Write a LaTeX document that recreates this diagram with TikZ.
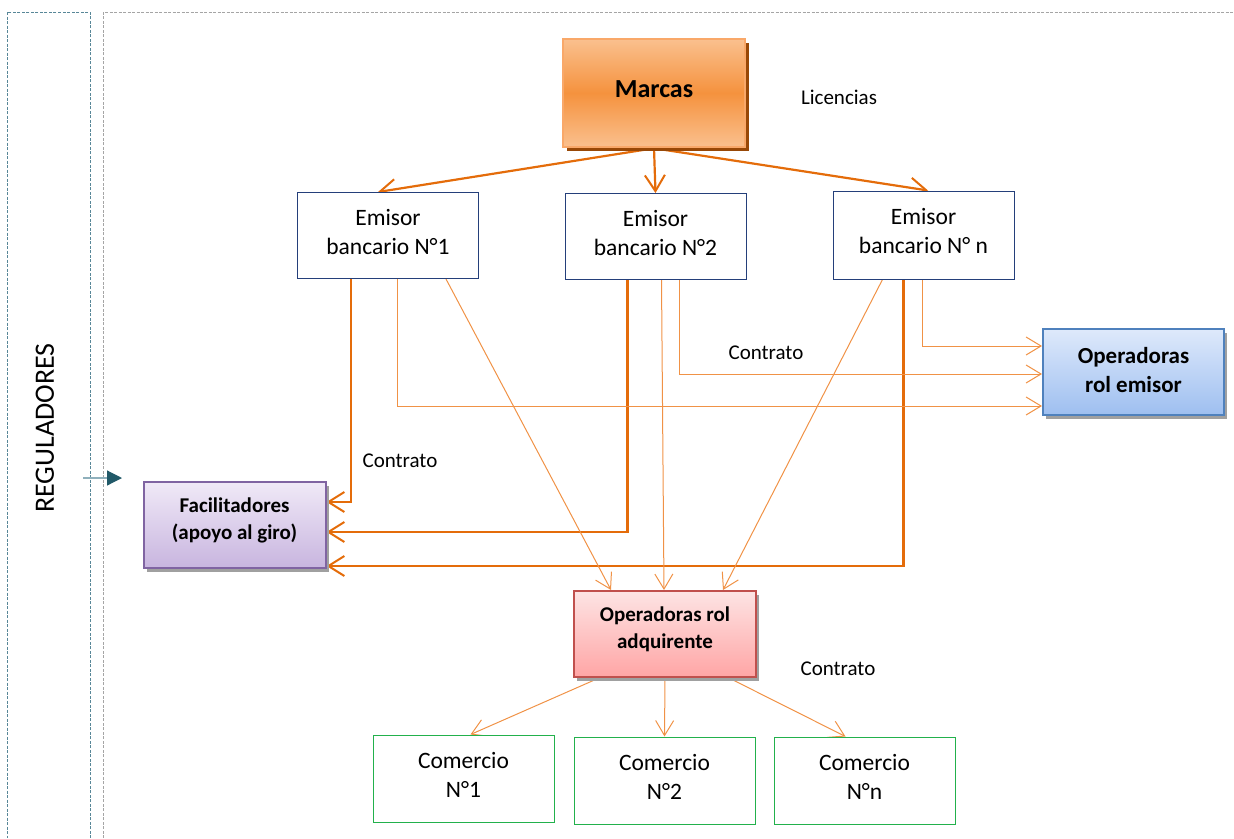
\documentclass[tikz,border=0pt]{standalone}
\usepackage{fontspec}
\setmainfont{Carlito}
\usetikzlibrary{arrows.meta,shadows,calc,backgrounds}

\definecolor{linkthick}{RGB}{228,108,10}
\definecolor{linkthin}{RGB}{240,146,70}
\definecolor{emiborder}{RGB}{36,63,122}
\definecolor{comborder}{RGB}{34,177,76}
\definecolor{markborder}{RGB}{249,168,105}
\definecolor{markmid}{RGB}{245,146,62}
\definecolor{marklight}{RGB}{250,192,142}
\definecolor{markshadow}{RGB}{152,72,7}
\definecolor{boxshadow}{RGB}{160,160,160}
\definecolor{blueborder}{RGB}{79,129,189}
\definecolor{bluetop}{RGB}{222,233,251}
\definecolor{bluebot}{RGB}{158,191,240}
\definecolor{purpborder}{RGB}{128,100,162}
\definecolor{purptop}{RGB}{240,233,247}
\definecolor{purpbot}{RGB}{200,181,223}
\definecolor{redborder}{RGB}{192,80,77}
\definecolor{redtop}{RGB}{253,228,228}
\definecolor{redbot}{RGB}{255,165,165}
\definecolor{regframe}{RGB}{88,135,152}
\definecolor{mainframe}{RGB}{165,165,165}
\definecolor{regline}{RGB}{143,176,188}
\definecolor{reghead}{RGB}{33,89,104}

% orange band, light at both edges and strong in the middle
\pgfdeclareverticalshading{markshade}{100bp}{
  color(0bp)=(marklight); color(25bp)=(marklight);
  color(50bp)=(markmid);
  color(75bp)=(marklight); color(100bp)=(marklight)}

\tikzset{
  emibox/.style={draw=emiborder, line width=1pt, fill=white, inner sep=0pt,
    minimum width=181pt, minimum height=86pt, align=center, text depth=8pt,
    font=\fontsize{23.5}{29}\selectfont},
  combox/.style={emibox, draw=comborder},
  markbox/.style={draw=markborder, line width=2.5pt, inner sep=0pt,
    minimum width=182pt, minimum height=108pt, text depth=8pt,
    shading=markshade,
    font=\fontsize{26}{31}\selectfont\bfseries,
    drop shadow={shadow xshift=4pt, shadow yshift=-4pt, fill=markshadow, opacity=1}},
  colbox/.style={line width=2pt, inner sep=0pt, align=center,
    minimum width=182pt, minimum height=86pt,
    font=\fontsize{21}{26.5}\selectfont\bfseries,
    drop shadow={shadow xshift=3pt, shadow yshift=-4pt, fill=boxshadow, opacity=1}},
  lbl/.style={inner sep=0pt, font=\fontsize{21}{25}\selectfont},
  thk/.style={draw=linkthick, line width=2.2pt,
    -{Straight Barb[length=16pt, width=20pt, line width=2pt]}},
  thn/.style={draw=linkthin, line width=1pt,
    -{Straight Barb[length=15pt, width=18pt, line width=1pt]}},
  regframe/.style={draw=regframe, line width=1pt, dash pattern=on 3pt off 1.5pt},
  mainframe/.style={draw=mainframe, line width=1pt, dash pattern=on 3pt off 1.5pt},
}

\begin{document}
\begin{tikzpicture}[x=1pt, y=-1pt]
\useasboundingbox (0,0) rectangle (1234,838);

% dotted frames
\draw[regframe] (90,838) -- (90,12) -- (7,12) -- (7,838);
\draw[mainframe] (103,838) -- (103,12) -- (1234,12);

% regulators side
\node[rotate=90, inner sep=0pt, font=\fontsize{28}{32}\selectfont] (reg) at (45,428) {REGULADORES};
\coordinate (rega) at (83,478);
\coordinate (regb) at (122,478);
\draw[draw=regline, line width=1.2pt, -{Triangle[length=15pt, width=15pt, color=reghead]}] (rega) -- (regb);

% boxes
\node[markbox] (marcas) at (654,93) {Marcas};
\node[emibox] (e1) at (388,235.5) {Emisor\\bancario N°1};
\node[emibox] (e2) at (655.5,236.5) {Emisor\\bancario N°2};
\node[emibox, minimum height=88pt] (en) at (923.5,235) {Emisor\\bancario N° n};
\node[colbox, draw=blueborder, top color=bluetop, bottom color=bluebot, text depth=4pt,
      minimum width=181pt, font=\fontsize{23}{29}\selectfont\bfseries] (opem) at (1133.5,372) {Operadoras\\rol emisor};
\node[colbox, draw=purpborder, top color=purptop, bottom color=purpbot, text depth=13pt] (fac) at (234.5,525) {Facilitadores\\(apoyo al giro)};
\node[colbox, draw=redborder, top color=redtop, bottom color=redbot, text depth=13pt] (adq) at (665,634) {Operadoras rol\\adquirente};
\node[combox, minimum height=87pt] (c1) at (463.5,778.5) {Comercio\\N°1};
\node[combox, minimum height=87pt] (c2) at (664.5,780.5) {Comercio\\N°2};
\node[combox, minimum height=87pt] (cn) at (864.5,780.5) {Comercio\\N°n};

% labels
\node[lbl] (lic) at (839,97) {Licencias};
\node[lbl] (ct1) at (766,353) {Contrato};
\node[lbl] (ct2) at (400,461) {Contrato};
\node[lbl] (ct3) at (838,669) {Contrato};

% connectors
\begin{scope}[on background layer]
  % licences from the brands
  \draw[thk] (marcas.south) -- ($(e1.north)+(-10,0)$);
  \draw[thk] (marcas.south) -- (e2.north);
  \draw[thk] (marcas.south) -- ($(en.north)+(4.5,0)$);

  % issuers to facilitators
  \draw[thk] ($(e1.south west)+(54,0)$) |- ($(fac.north east)+(0,21)$);
  \draw[thk] ($(e2.south west)+(63,0)$) |- ($(fac.north east)+(0,51)$);
  \draw[thk] ($(en.south west)+(71,0)$) |- ($(fac.north east)+(0,85)$);

  % issuers to issuing operators
  \draw[thn] ($(e1.south west)+(100,0)$) |- ($(opem.north west)+(0,78)$);
  \draw[thn] ($(e2.south west)+(115,0)$) |- ($(opem.north west)+(0,46)$);
  \draw[thn] ($(en.south west)+(90,0)$) |- ($(opem.north west)+(0,18)$);

  % issuers to acquiring operators
  \draw[thn] ($(e1.south west)+(149,0)$) -- ($(adq.north west)+(38,0)$);
  \draw[thn] ($(e2.south west)+(97,0)$) -- ($(adq.north west)+(91,0)$);
  \draw[thn] ($(en.south west)+(50,0)$) -- ($(adq.north west)+(150,0)$);

  % acquiring operators to merchants
  \draw[thn] ($(adq.south west)+(26,0)$) -- ($(c1.north west)+(98,0)$);
  \draw[thn] (adq.south) -- (c2.north);
  \draw[thn] ($(adq.south west)+(156,0)$) -- ($(cn.north west)+(72,0)$);
\end{scope}
\end{tikzpicture}
\end{document}
